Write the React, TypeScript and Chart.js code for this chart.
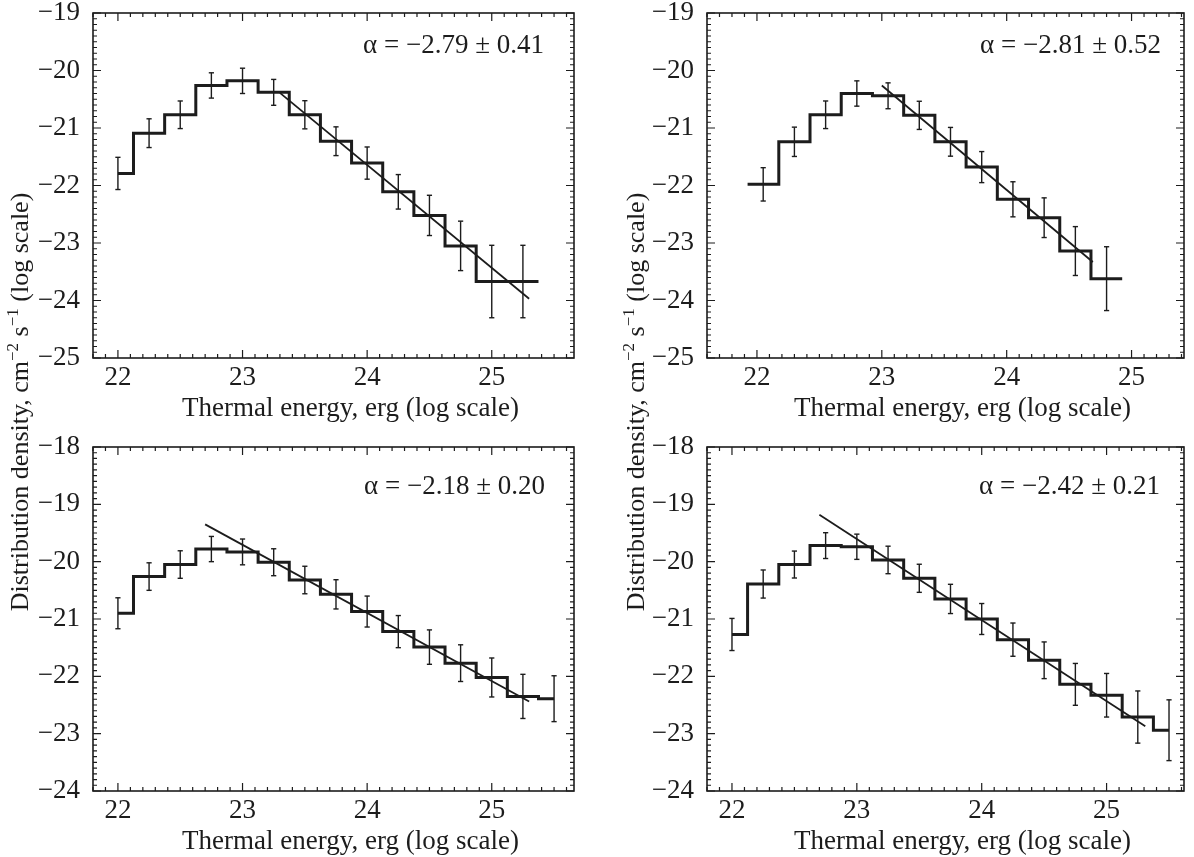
import React, { useEffect, useRef } from 'react';
import { Chart, registerables } from 'chart.js';

Chart.register(...registerables);

// ---------------- data ----------------
// Top-left panel
const tlCenters = [22.0, 22.25, 22.5, 22.75, 23.0, 23.25, 23.5, 23.75, 24.0, 24.25, 24.5, 24.75, 25.0, 25.25];
const tlValues = [-21.79, -21.09, -20.77, -20.26, -20.18, -20.38, -20.77, -21.23, -21.61, -22.11, -22.52, -23.05, -23.67, -23.67];
const tlErrors = [0.28, 0.25, 0.24, 0.22, 0.22, 0.225, 0.245, 0.25, 0.28, 0.3, 0.35, 0.43, 0.63, 0.63];
const tlStepRange = [22.0, 25.375];
const tlFitX = [23.3, 25.3];
const tlFitY = [-20.39, -23.97];
const tlAlpha = 'α = −2.79 ± 0.41';
const tlXRange = [21.8, 25.66];
const tlYRange = [-25, -19];

// Top-right panel
const trCenters = [22.05, 22.3, 22.55, 22.8, 23.05, 23.3, 23.55, 23.8, 24.05, 24.3, 24.55, 24.8];
const trValues = [-21.98, -21.24, -20.77, -20.4, -20.44, -20.78, -21.24, -21.68, -22.24, -22.56, -23.14, -23.62];
const trErrors = [0.29, 0.255, 0.24, 0.22, 0.225, 0.245, 0.25, 0.27, 0.305, 0.345, 0.425, 0.555];
const trStepRange = [21.925, 24.925];
const trFitX = [23.0, 24.69];
const trFitY = [-20.26, -23.33];
const trAlpha = 'α = −2.81 ± 0.52';
const trXRange = [21.6, 25.42];
const trYRange = [-25, -19];

// Bottom-left panel
const blCenters = [22.0, 22.25, 22.5, 22.75, 23.0, 23.25, 23.5, 23.75, 24.0, 24.25, 24.5, 24.75, 25.0, 25.25, 25.5];
const blValues = [-20.9, -20.26, -20.05, -19.78, -19.83, -20.01, -20.32, -20.57, -20.87, -21.22, -21.49, -21.77, -22.02, -22.35, -22.39];
const blErrors = [0.27, 0.24, 0.24, 0.22, 0.225, 0.235, 0.24, 0.255, 0.27, 0.28, 0.3, 0.32, 0.34, 0.385, 0.4];
const blStepRange = [22.0, 25.5];
const blFitX = [22.7, 25.3];
const blFitY = [-19.35, -22.44];
const blAlpha = 'α = −2.18 ± 0.20';
const blXRange = [21.8, 25.66];
const blYRange = [-24, -18];

// Bottom-right panel
const brCenters = [22.0, 22.25, 22.5, 22.75, 23.0, 23.25, 23.5, 23.75, 24.0, 24.25, 24.5, 24.75, 25.0, 25.25, 25.5];
const brValues = [-21.27, -20.39, -20.05, -19.72, -19.74, -19.97, -20.29, -20.65, -21.0, -21.36, -21.72, -22.14, -22.33, -22.71, -22.94];
const brErrors = [0.28, 0.245, 0.235, 0.225, 0.22, 0.24, 0.245, 0.255, 0.27, 0.29, 0.32, 0.365, 0.38, 0.455, 0.53];
const brStepRange = [22.0, 25.5];
const brFitX = [22.7, 25.31];
const brFitY = [-19.18, -22.87];
const brAlpha = 'α = −2.42 ± 0.21';
const brXRange = [21.8, 25.62];
const brYRange = [-24, -18];

const xTitle = 'Thermal energy, erg (log scale)';
const yTitleParts = ['Distribution density, cm', '−2', ' s', '−1', ' (log scale)'];

// ---------------- styling / layout ----------------
const W = 1194;
const H = 857;
const Y_AXIS_W = 70;
const X_AXIS_H = 60;
const INK = '#1c1c1c';
const FAMILY = '"Liberation Serif", "Times New Roman", serif';
const FONT_SIZE = 27;
const YTITLE_SIZE = 26;

type Box = { left: number; right: number; top: number; bottom: number };
type Panel = {
  centers: number[];
  values: number[];
  errors: number[];
  stepRange: number[];
  fitX: number[];
  fitY: number[];
  alpha: string;
  xRange: number[];
  yRange: number[];
  box: Box;
  alphaRight: number;
  alphaBaseline: number;
  yTitleX: number | null;
};

const LEFT_COL = { left: 93, right: 574 };
const RIGHT_COL = { left: 707, right: 1184 };
const TOP_ROW = { top: 13, bottom: 358 };
const BOT_ROW = { top: 447, bottom: 791 };

const panels: Panel[] = [
  {
    centers: tlCenters, values: tlValues, errors: tlErrors, stepRange: tlStepRange,
    fitX: tlFitX, fitY: tlFitY, alpha: tlAlpha, xRange: tlXRange, yRange: tlYRange,
    box: { ...LEFT_COL, ...TOP_ROW }, alphaRight: 30, alphaBaseline: 40, yTitleX: 28,
  },
  {
    centers: trCenters, values: trValues, errors: trErrors, stepRange: trStepRange,
    fitX: trFitX, fitY: trFitY, alpha: trAlpha, xRange: trXRange, yRange: trYRange,
    box: { ...RIGHT_COL, ...TOP_ROW }, alphaRight: 23, alphaBaseline: 40, yTitleX: 644,
  },
  {
    centers: blCenters, values: blValues, errors: blErrors, stepRange: blStepRange,
    fitX: blFitX, fitY: blFitY, alpha: blAlpha, xRange: blXRange, yRange: blYRange,
    box: { ...LEFT_COL, ...BOT_ROW }, alphaRight: 29, alphaBaseline: 47, yTitleX: null,
  },
  {
    centers: brCenters, values: brValues, errors: brErrors, stepRange: brStepRange,
    fitX: brFitX, fitY: brFitY, alpha: brAlpha, xRange: brXRange, yRange: brYRange,
    box: { ...RIGHT_COL, ...BOT_ROW }, alphaRight: 24, alphaBaseline: 47, yTitleX: null,
  },
];

function drawYTitle(ctx: CanvasRenderingContext2D, baselineX: number, centerY: number) {
  const main = `${YTITLE_SIZE}px ${FAMILY}`;
  const sup = `17px ${FAMILY}`;
  const segs = yTitleParts.map((t, i) => ({ t, f: i % 2 === 1 ? sup : main, dy: i % 2 === 1 ? -10 : 0 }));
  ctx.save();
  ctx.translate(baselineX, centerY);
  ctx.rotate(-Math.PI / 2);
  ctx.fillStyle = INK;
  ctx.textBaseline = 'alphabetic';
  ctx.textAlign = 'left';
  let total = 0;
  for (const s of segs) {
    ctx.font = s.f;
    total += ctx.measureText(s.t).width;
  }
  let x = -total / 2;
  for (const s of segs) {
    ctx.font = s.f;
    ctx.fillText(s.t, x, s.dy);
    x += ctx.measureText(s.t).width;
  }
  ctx.restore();
}

function framePlugin(p: Panel) {
  return {
    id: 'frame',
    afterDraw(chart: any) {
      const ctx: CanvasRenderingContext2D = chart.ctx;
      const { left, right, top, bottom } = chart.chartArea;
      const xs = chart.scales.x;
      const ys = chart.scales.y;
      ctx.save();
      // box
      ctx.strokeStyle = INK;
      ctx.lineWidth = 1.6;
      ctx.strokeRect(left, top, right - left, bottom - top);
      // ticks (inward, all four sides)
      ctx.lineWidth = 1.2;
      ctx.beginPath();
      const kx0 = Math.ceil(p.xRange[0] * 10 - 1e-6);
      const kx1 = Math.floor(p.xRange[1] * 10 + 1e-6);
      for (let k = kx0; k <= kx1; k++) {
        const px = xs.getPixelForValue(k / 10);
        const len = k % 10 === 0 ? 8 : 4;
        ctx.moveTo(px, bottom);
        ctx.lineTo(px, bottom - len);
        ctx.moveTo(px, top);
        ctx.lineTo(px, top + len);
      }
      const ky0 = Math.ceil(p.yRange[0] * 10 - 1e-6);
      const ky1 = Math.floor(p.yRange[1] * 10 + 1e-6);
      for (let k = ky0; k <= ky1; k++) {
        const py = ys.getPixelForValue(k / 10);
        const len = k % 10 === 0 ? 8 : 4;
        ctx.moveTo(left, py);
        ctx.lineTo(left + len, py);
        ctx.moveTo(right, py);
        ctx.lineTo(right - len, py);
      }
      ctx.stroke();
      // alpha label
      ctx.fillStyle = INK;
      ctx.font = `${FONT_SIZE}px ${FAMILY}`;
      ctx.textAlign = 'right';
      ctx.textBaseline = 'alphabetic';
      ctx.fillText(p.alpha, right - p.alphaRight, top + p.alphaBaseline);
      // x title
      ctx.textAlign = 'center';
      ctx.fillText(xTitle, (left + right) / 2 + 17, bottom + 58);
      ctx.restore();
      if (p.yTitleX !== null) {
        drawYTitle(ctx, p.yTitleX, (TOP_ROW.top + BOT_ROW.bottom) / 2);
      }
    },
  };
}

function buildConfig(p: Panel): any {
  const last = p.values.length - 1;
  const stepData = [
    { x: p.stepRange[0], y: p.values[0] },
    ...p.centers.map((c, i) => ({ x: c, y: p.values[i] })),
    { x: p.stepRange[1], y: p.values[last] },
  ];
  const errData: any[] = [];
  p.centers.forEach((c, i) => {
    errData.push({ x: c, y: p.values[i] - p.errors[i] });
    errData.push({ x: c, y: p.values[i] + p.errors[i] });
    errData.push({ x: c, y: null });
  });
  const fitData = p.fitX.map((x, i) => ({ x, y: p.fitY[i] }));
  const tickFont = { family: FAMILY, size: FONT_SIZE };
  return {
    type: 'line',
    data: {
      datasets: [
        {
          label: 'errors',
          data: errData,
          borderColor: INK,
          borderWidth: 1.4,
          spanGaps: false,
          pointStyle: 'line',
          pointRadius: 2.6,
          pointBorderWidth: 1.4,
          pointBorderColor: INK,
          pointHoverRadius: 0,
          fill: false,
        },
        {
          label: 'histogram',
          data: stepData,
          stepped: 'middle',
          borderColor: INK,
          borderWidth: 3,
          borderJoinStyle: 'miter',
          borderCapStyle: 'butt',
          pointRadius: 0,
          fill: false,
        },
        {
          label: 'fit',
          data: fitData,
          borderColor: INK,
          borderWidth: 1.8,
          pointRadius: 0,
          fill: false,
        },
      ],
    },
    options: {
      responsive: false,
      animation: false,
      events: [],
      layout: {
        padding: {
          left: p.box.left - Y_AXIS_W,
          right: W - p.box.right,
          top: p.box.top,
          bottom: H - p.box.bottom - X_AXIS_H,
        },
      },
      plugins: { legend: { display: false }, tooltip: { enabled: false } },
      scales: {
        x: {
          type: 'linear',
          min: p.xRange[0],
          max: p.xRange[1],
          grid: { display: false, drawTicks: false },
          border: { display: false },
          ticks: {
            stepSize: 1,
            includeBounds: false,
            autoSkip: false,
            maxRotation: 0,
            padding: 4,
            color: INK,
            font: tickFont,
            callback: (v: number) => String(Math.round(v)),
          },
          afterFit: (s: any) => {
            s.height = X_AXIS_H;
            s.paddingLeft = 0;
            s.paddingRight = 0;
          },
        },
        y: {
          type: 'linear',
          min: p.yRange[0],
          max: p.yRange[1],
          grid: { display: false, drawTicks: false },
          border: { display: false },
          ticks: {
            stepSize: 1,
            includeBounds: false,
            autoSkip: false,
            padding: 13,
            color: INK,
            font: tickFont,
            callback: (v: number) => '−' + Math.abs(Math.round(v)),
          },
          afterFit: (s: any) => {
            s.width = Y_AXIS_W;
            s.paddingTop = 0;
            s.paddingBottom = 0;
          },
        },
      },
    },
    plugins: [framePlugin(p)],
  };
}

function PanelCanvas({ panel }: { panel: Panel }) {
  const ref = useRef<HTMLCanvasElement | null>(null);
  useEffect(() => {
    if (!ref.current) return;
    const chart = new Chart(ref.current, buildConfig(panel));
    return () => chart.destroy();
  }, [panel]);
  return (
    <canvas
      ref={ref}
      width={W}
      height={H}
      style={{ position: 'absolute', left: 0, top: 0, width: W, height: H }}
    />
  );
}

export default function App() {
  return (
    <div style={{ position: 'absolute', left: 0, top: 0, width: W, height: H, background: '#fff' }}>
      {panels.map((p, i) => (
        <PanelCanvas key={i} panel={p} />
      ))}
    </div>
  );
}
